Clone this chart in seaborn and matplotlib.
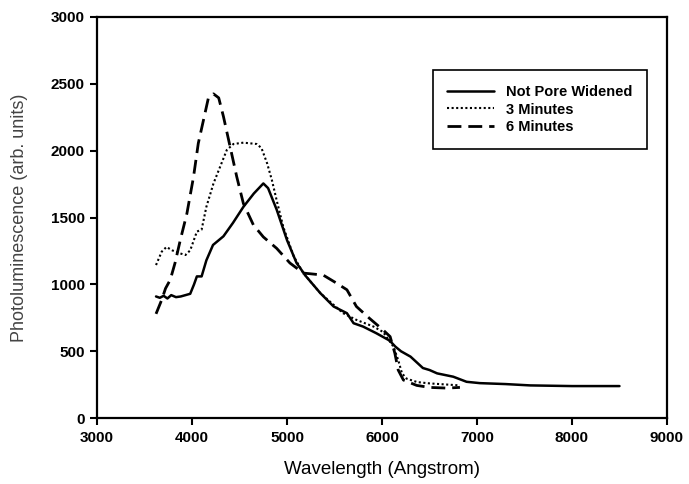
import matplotlib
matplotlib.use('Agg')
import matplotlib.pyplot as plt
import pandas as pd
import seaborn as sns

# values
npw_x = [3620, 3660, 3700, 3740, 3780, 3830, 3880, 3930, 3980, 4020, 4050, 4100, 4150, 4220,
         4330, 4430, 4540, 4650, 4750, 4800, 4890, 5000, 5100, 5200, 5350, 5490, 5630, 5700,
         5800, 5940, 6080, 6140, 6200, 6300, 6430, 6500, 6580, 6750, 6890, 7030, 7300, 7560,
         8000, 8500]
npw_y = [910, 900, 915, 895, 920, 905, 910, 920, 930, 1000, 1060, 1060, 1180, 1295,
         1360, 1460, 1580, 1680, 1755, 1720, 1560, 1330, 1160, 1060, 935, 835, 785, 710,
         685, 635, 580, 535, 500, 460, 375, 360, 335, 310, 272, 262, 255, 245,
         240, 240]

m3_x = [3620, 3680, 3730, 3790, 3860, 3930, 3980, 4050, 4100, 4150, 4225, 4295, 4365, 4435,
        4540, 4680, 4730, 4790, 4840, 4890, 4960, 5070, 5170, 5350, 5590, 5730, 5910, 6010,
        6120, 6170, 6210, 6260, 6370, 6500, 6820]
m3_y = [1145, 1245, 1280, 1255, 1235, 1220, 1255, 1395, 1410, 1580, 1755, 1880, 2005, 2050,
        2060, 2050, 2020, 1905, 1780, 1630, 1430, 1210, 1085, 935, 785, 735, 685, 645,
        535, 435, 335, 295, 270, 260, 245]

m6_x = [3620, 3680, 3720, 3770, 3820, 3875, 3945, 4015, 4065, 4120, 4170, 4225, 4280, 4330,
        4400, 4470, 4540, 4645, 4750, 4890, 5030, 5170, 5380, 5520, 5630, 5730, 5870, 6010,
        6085, 6135, 6170, 6225, 6365, 6500, 6680, 6820]
m6_y = [780, 885, 970, 1035, 1160, 1330, 1530, 1805, 2055, 2230, 2390, 2425, 2395, 2255,
        2030, 1805, 1605, 1445, 1355, 1270, 1160, 1085, 1070, 1010, 960, 835, 745, 660,
        610, 485, 360, 285, 245, 230, 225, 230]

x_ticks = [3000, 4000, 5000, 6000, 7000, 8000, 9000]
y_ticks = [0, 500, 1000, 1500, 2000, 2500, 3000]

sns.set_theme(style='ticks')
plt.rcParams['font.family'] = ['Liberation Sans', 'DejaVu Sans']
plt.rcParams['text.color'] = 'black'

fig = plt.figure(figsize=(6.89, 4.84), dpi=100)
ax = fig.add_axes([0.141, 0.136, 0.827, 0.829])

sns.lineplot(x=npw_x, y=npw_y, ax=ax, color='black', lw=1.8, linestyle='-',
             label='Not Pore Widened')
sns.lineplot(x=m3_x, y=m3_y, ax=ax, color='black', lw=1.5, linestyle=(0, (1, 1.2)),
             label='3 Minutes')
sns.lineplot(x=m6_x, y=m6_y, ax=ax, color='black', lw=2.0, linestyle=(0, (5, 2.5)),
             label='6 Minutes')

ax.set_xlim(3000, 9000)
ax.set_ylim(0, 3000)
ax.set_xticks(x_ticks)
ax.set_yticks(y_ticks)
ax.tick_params(direction='out', length=5, width=1.5, color='black',
               labelsize=11, labelcolor='black', pad=4)
for lab in ax.get_xticklabels() + ax.get_yticklabels():
    lab.set_fontweight('bold')
for s in ax.spines.values():
    s.set_visible(True)
    s.set_color('black')
    s.set_linewidth(1.6)

ax.set_xlabel('Wavelength (Angstrom)', fontsize=13.5, color='black', labelpad=12)
ax.set_ylabel('Photoluminescence (arb. units)', fontsize=13, color='#444444', labelpad=16)

leg = ax.legend(loc='upper left', bbox_to_anchor=(0.576, 0.885), frameon=True,
                fancybox=False, framealpha=1, edgecolor='black', handlelength=3.2,
                handletextpad=0.8, borderpad=1.0, labelspacing=0.25,
                prop={'size': 10.5, 'weight': 'bold'})
leg.get_frame().set_linewidth(1.2)
for t in leg.get_texts():
    t.set_color('black')

fig.savefig('out.png', dpi=100)
